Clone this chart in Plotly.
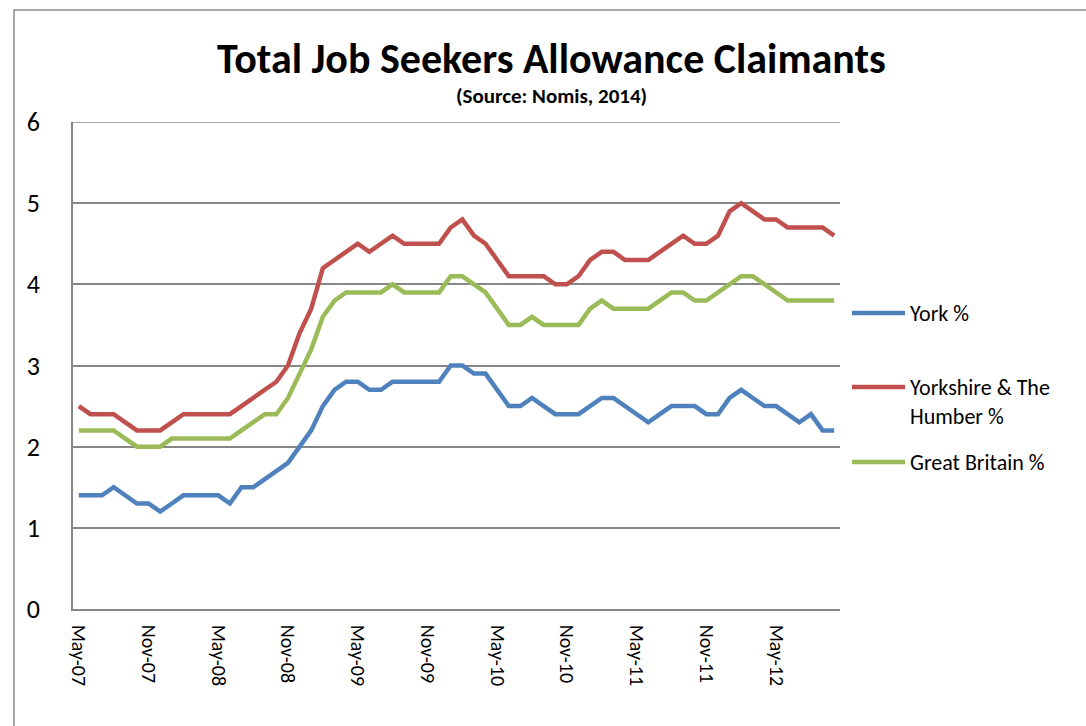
import pandas as pd
import plotly.graph_objects as go

# Monthly claimant rates (%), May 2007 - Oct 2012
months = list(pd.date_range("2007-05-01", periods=66, freq="MS").strftime("%b-%y"))

york = [1.4, 1.4, 1.4, 1.5, 1.4, 1.3, 1.3, 1.2, 1.3, 1.4, 1.4, 1.4,
        1.4, 1.3, 1.5, 1.5, 1.6, 1.7, 1.8, 2.0, 2.2, 2.5, 2.7, 2.8,
        2.8, 2.7, 2.7, 2.8, 2.8, 2.8, 2.8, 2.8, 3.0, 3.0, 2.9, 2.9,
        2.7, 2.5, 2.5, 2.6, 2.5, 2.4, 2.4, 2.4, 2.5, 2.6, 2.6, 2.5,
        2.4, 2.3, 2.4, 2.5, 2.5, 2.5, 2.4, 2.4, 2.6, 2.7, 2.6, 2.5,
        2.5, 2.4, 2.3, 2.4, 2.2, 2.2]

yorkshire = [2.5, 2.4, 2.4, 2.4, 2.3, 2.2, 2.2, 2.2, 2.3, 2.4, 2.4, 2.4,
             2.4, 2.4, 2.5, 2.6, 2.7, 2.8, 3.0, 3.4, 3.7, 4.2, 4.3, 4.4,
             4.5, 4.4, 4.5, 4.6, 4.5, 4.5, 4.5, 4.5, 4.7, 4.8, 4.6, 4.5,
             4.3, 4.1, 4.1, 4.1, 4.1, 4.0, 4.0, 4.1, 4.3, 4.4, 4.4, 4.3,
             4.3, 4.3, 4.4, 4.5, 4.6, 4.5, 4.5, 4.6, 4.9, 5.0, 4.9, 4.8,
             4.8, 4.7, 4.7, 4.7, 4.7, 4.6]

great_britain = [2.2, 2.2, 2.2, 2.2, 2.1, 2.0, 2.0, 2.0, 2.1, 2.1, 2.1, 2.1,
                 2.1, 2.1, 2.2, 2.3, 2.4, 2.4, 2.6, 2.9, 3.2, 3.6, 3.8, 3.9,
                 3.9, 3.9, 3.9, 4.0, 3.9, 3.9, 3.9, 3.9, 4.1, 4.1, 4.0, 3.9,
                 3.7, 3.5, 3.5, 3.6, 3.5, 3.5, 3.5, 3.5, 3.7, 3.8, 3.7, 3.7,
                 3.7, 3.7, 3.8, 3.9, 3.9, 3.8, 3.8, 3.9, 4.0, 4.1, 4.1, 4.0,
                 3.9, 3.8, 3.8, 3.8, 3.8, 3.8]

series_names = ["York %", "Yorkshire & The<br>Humber %", "Great Britain %"]
series_values = [york, yorkshire, great_britain]
series_colors = ["#4F81BD", "#C0504D", "#9BBB59"]

tick_labels = months[::6]
y_ticks = [0, 1, 2, 3, 4, 5, 6]

FONT = "Carlito, Lato, sans-serif"
W, H = 1086, 726
L, R, T, B = 73, 840, 122, 609   # plot area edges in pixels
GRID = "#868686"


def xp(px):
    return (px - L) / (R - L)


def yp(py):
    return (B - py) / (B - T)


fig = go.Figure()
for name, vals, color in zip(series_names, series_values, series_colors):
    fig.add_trace(go.Scatter(
        x=months, y=vals, mode="lines", name=name,
        line=dict(color=color, width=4.5),
        showlegend=False,
    ))

# Legend on the right: a short line sample plus label per series
legend_y = [313, 387, 462]
shapes = []
annotations = []
for name, color, ly in zip(series_names, series_colors, legend_y):
    shapes.append(dict(
        type="line", xref="paper", yref="paper",
        x0=xp(852), x1=xp(905), y0=yp(ly), y1=yp(ly),
        line=dict(color=color, width=4.5),
    ))
    annotations.append(dict(
        text=name, xref="paper", yref="paper",
        x=xp(908), y=yp(ly - 15), xanchor="left", yanchor="top",
        align="left", showarrow=False,
        font=dict(family=FONT, size=22, color="#000000"),
    ))

# Gridline along the top of the value axis
shapes.append(dict(
    type="line", xref="paper", yref="y",
    x0=0, x1=1, y0=6, y1=6,
    line=dict(color=GRID, width=1.5), layer="below",
))

# Outer chart border
shapes.append(dict(
    type="rect", xref="paper", yref="paper",
    x0=xp(14), x1=xp(1110), y0=yp(750), y1=yp(10),
    line=dict(color="#8A8A8A", width=1.5), fillcolor="rgba(0,0,0,0)",
    layer="below",
))

annotations.append(dict(
    text="<b>Total Job Seekers Allowance Claimants</b>",
    xref="paper", yref="paper", x=xp(551), y=yp(58),
    xanchor="center", yanchor="middle", showarrow=False,
    font=dict(family=FONT, size=42, color="#000000"),
))
annotations.append(dict(
    text="<b>(Source: Nomis, 2014)</b>",
    xref="paper", yref="paper", x=xp(551), y=yp(96),
    xanchor="center", yanchor="middle", showarrow=False,
    font=dict(family=FONT, size=21, color="#000000"),
))

fig.update_layout(
    width=W, height=H,
    margin=dict(l=L, r=W - R, t=T, b=H - B, pad=0),
    paper_bgcolor="white", plot_bgcolor="white",
    font=dict(family=FONT, color="#000000"),
    shapes=shapes, annotations=annotations,
    xaxis=dict(
        type="category", range=[-0.5, 65.5],
        tickmode="array", tickvals=tick_labels, ticktext=tick_labels,
        tickangle=90, tickfont=dict(size=20, family=FONT),
        showgrid=False, showline=True, linecolor=GRID, linewidth=1.5,
        ticks="", ticklabelstandoff=10, zeroline=False,
    ),
    yaxis=dict(
        range=[0, 6], tickmode="array", tickvals=y_ticks,
        tickfont=dict(size=26, family=FONT),
        showgrid=True, gridcolor=GRID, gridwidth=1.5,
        showline=True, linecolor=GRID, linewidth=1.5,
        ticks="", ticklabelstandoff=26, zeroline=False,
    ),
)

fig.write_html("out.html")
